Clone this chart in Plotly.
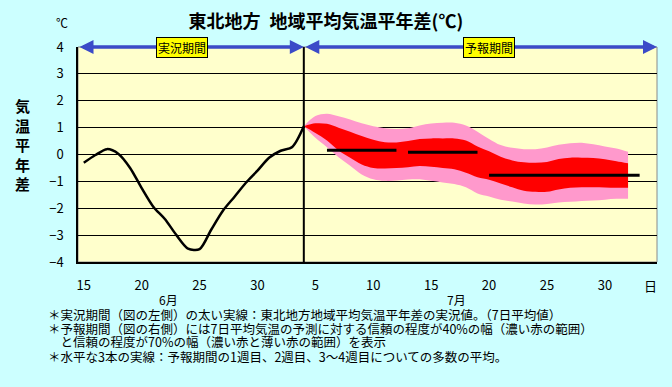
import plotly.graph_objects as go

# ---------------- data ----------------
obs_days = list(range(0, 20))          # day 0 = 6/15
obs_values = [-0.31, -0.02, 0.20, 0.02, -0.50, -1.25, -1.94, -2.40, -3.00, -3.50,
              -3.52, -2.80, -2.10, -1.58, -1.05, -0.60, -0.12, 0.14, 0.28, 1.05]

band_days = list(range(19, 48))
outer_upper = [1.05, 1.43, 1.52, 1.42, 1.30, 1.16, 1.05, 0.98, 0.95, 0.98,
               1.08, 1.15, 1.18, 1.18, 1.08, 0.85, 0.58, 0.35, 0.25, 0.20,
               0.20, 0.26, 0.36, 0.42, 0.44, 0.38, 0.30, 0.22, 0.10]
inner_upper = [1.05, 1.16, 1.14, 1.00, 0.85, 0.69, 0.55, 0.46, 0.45, 0.50,
               0.58, 0.60, 0.60, 0.60, 0.52, 0.30, 0.12, -0.08, -0.22, -0.29,
               -0.31, -0.28, -0.17, -0.12, -0.12, -0.13, -0.18, -0.25, -0.33]
inner_lower = [1.05, 0.80, 0.52, 0.15, -0.12, -0.37, -0.50, -0.52, -0.50, -0.47,
               -0.43, -0.46, -0.50, -0.55, -0.68, -0.85, -0.94, -1.08, -1.22, -1.35,
               -1.39, -1.39, -1.30, -1.24, -1.22, -1.22, -1.23, -1.24, -1.24]
outer_lower = [1.05, 0.62, 0.27, -0.10, -0.42, -0.74, -0.92, -0.98, -0.97, -0.93,
               -0.92, -0.98, -1.04, -1.10, -1.22, -1.45, -1.56, -1.68, -1.75, -1.82,
               -1.86, -1.84, -1.79, -1.76, -1.73, -1.71, -1.68, -1.65, -1.65]

week_start = [21, 28, 35]
week_end = [27, 34, 48]
week_mean = [0.16, 0.08, -0.77]

forecast_start = 19
x_range = [-0.5, 49.5]
tick_days = [0, 5, 10, 15, 20, 25, 30, 35, 40, 45]
tick_text = ['15', '20', '25', '30', '5', '10', '15', '20', '25', '30']
y_ticks = [-4, -3, -2, -1, 0, 1, 2, 3, 4]
month_labels = ['6月', '7月']
month_pos = [7.3, 32.2]
day_boundaries = [d + 0.5 for d in range(0, 50)]

title = '東北地方\u2002地域平均気温平年差(℃)'
y_title = '気<br>温<br>平<br>年<br>差'
notes = [
    '＊実況期間（図の左側）の太い実線：東北地方地域平均気温平年差の実況値。（7日平均値）',
    '＊予報期間（図の右側）には7日平均気温の予測に対する信頼の程度が40%の幅（濃い赤の範囲）',
    '　と信頼の程度が70%の幅（濃い赤と薄い赤の範囲）を表示',
    '＊水平な3本の実線：予報期間の1週目、2週目、3～4週目についての多数の平均。',
]

FONT = 'Noto Sans CJK JP'
PINK = '#FF99CC'
RED = '#FF0000'
BLUE = '#3B4BC8'

W, H = 672, 387
L, R, T, B = 78, 15, 47, 125
pw, ph = W - L - R, H - T - B


def px(x):
    return (x - L) / pw


def py(y):
    return (H - B - y) / ph


fig = go.Figure()

# 70% band
fig.add_trace(go.Scatter(x=band_days, y=outer_lower, mode='lines', line=dict(width=0, shape='spline'),
                         hoverinfo='skip', showlegend=False))
fig.add_trace(go.Scatter(x=band_days, y=outer_upper, mode='lines', line=dict(width=0, shape='spline'),
                         fill='tonexty', fillcolor=PINK, hoverinfo='skip', showlegend=False))
# 40% band
fig.add_trace(go.Scatter(x=band_days, y=inner_lower, mode='lines', line=dict(width=0, shape='spline'),
                         hoverinfo='skip', showlegend=False))
fig.add_trace(go.Scatter(x=band_days, y=inner_upper, mode='lines', line=dict(width=0, shape='spline'),
                         fill='tonexty', fillcolor=RED, hoverinfo='skip', showlegend=False))

# weekly mean lines
for s, e, m in zip(week_start, week_end, week_mean):
    fig.add_trace(go.Scatter(x=[s, e], y=[m, m], mode='lines', line=dict(color='black', width=3),
                             showlegend=False, hoverinfo='skip'))

# observed curve
fig.add_trace(go.Scatter(x=obs_days, y=obs_values, mode='lines',
                         line=dict(color='black', width=2.5, shape='spline', smoothing=0.8),
                         showlegend=False))

# forecast start vertical line
fig.add_shape(type='line', xref='x', yref='y', x0=forecast_start, x1=forecast_start,
              y0=y_ticks[0], y1=y_ticks[-1], line=dict(color='black', width=2))
# plot border (gray)
fig.add_shape(type='rect', xref='paper', yref='paper', x0=0, x1=1, y0=0, y1=1,
              line=dict(color='#8A8A8A', width=1), layer='below')

# arrows at top
for x0, x1 in [(x_range[0], forecast_start), (forecast_start, x_range[1])]:
    fig.add_annotation(x=x1, y=y_ticks[-1], ax=x0, ay=y_ticks[-1], xref='x', yref='y',
                       axref='x', ayref='y', text='', showarrow=True, arrowhead=2,
                       arrowside='end+start', arrowsize=0.8, arrowwidth=3.5, arrowcolor=BLUE,
                       standoff=0, startstandoff=0)
for txt, xpos in [('実況期間', 8.5), ('予報期間', 35.0)]:
    fig.add_annotation(x=xpos, y=y_ticks[-1], xref='x', yref='y', text=txt, showarrow=False,
                       xanchor='center', yanchor='middle',
                       font=dict(family=FONT, size=12, color='black'), bgcolor='#FFFF00',
                       bordercolor='black', borderwidth=1, borderpad=1)

# month labels
for lab, pos in zip(month_labels, month_pos):
    fig.add_annotation(x=pos, y=py(299), xref='x', yref='paper', text=lab, showarrow=False,
                       xanchor='center', yanchor='middle',
                       font=dict(family=FONT, size=12, color='black'))

fig.add_annotation(x=px(62), y=py(22), xref='paper', yref='paper', text='℃', showarrow=False,
                   xanchor='center', yanchor='middle',
                   font=dict(family=FONT, size=12, color='black'))
fig.add_annotation(x=px(22), y=py(144), xref='paper', yref='paper', text='<b>' + y_title + '</b>',
                   showarrow=False, xanchor='center', yanchor='middle',
                   font=dict(family=FONT, size=15, color='black'))
fig.add_annotation(x=px(650), y=py(285), xref='paper', yref='paper', text='日', showarrow=False,
                   xanchor='center', yanchor='middle',
                   font=dict(family=FONT, size=13, color='black'))

note_y = [314, 328, 341, 356]
for t, yy in zip(notes, note_y):
    fig.add_annotation(x=px(46), y=py(yy), xref='paper', yref='paper', text=t, showarrow=False,
                       xanchor='left', yanchor='middle', height=13, valign='middle',
                       font=dict(family=FONT, size=12.5, color='black'))

fig.update_layout(
    width=W, height=H,
    margin=dict(l=L, r=R, t=T, b=B),
    paper_bgcolor='#CCFFFF',
    plot_bgcolor='#FFFFCC',
    title=dict(text='<b>' + title + '</b>', x=0.485, xanchor='center', y=1 - 22 / H,
               yanchor='middle', font=dict(family=FONT, size=18, color='black')),
    xaxis=dict(range=x_range, tickvals=tick_days, ticktext=tick_text, showgrid=False,
               zeroline=False, showline=True, linecolor='black', linewidth=1.5,
               ticks='', ticklabelstandoff=11,
               tickfont=dict(family=FONT, size=13, color='black')),
    xaxis2=dict(range=x_range, overlaying='x', anchor='free', position=0.5,
                tickvals=day_boundaries, ticks='inside', ticklen=6, tickcolor='black',
                tickwidth=1, showticklabels=False, showgrid=False, zeroline=False,
                showline=False, layer='below traces'),
    xaxis3=dict(range=x_range, overlaying='x', anchor='free', position=0.5,
                tickvals=day_boundaries, ticks='outside', ticklen=6, tickcolor='black',
                tickwidth=1, showticklabels=False, showgrid=False, zeroline=False,
                showline=False, layer='below traces'),
    yaxis=dict(range=[y_ticks[0], y_ticks[-1]], tickvals=y_ticks, showgrid=True,
               gridcolor='black', gridwidth=1, zeroline=True, zerolinecolor='black',
               zerolinewidth=1, showline=True, linecolor='black', linewidth=1.5,
               ticks='', ticklabelstandoff=10,
               tickfont=dict(family=FONT, size=13, color='black')),
    showlegend=False,
)

fig.write_html('out.html', config={'displayModeBar': False},
               post_script="document.body.style.margin='0';")
